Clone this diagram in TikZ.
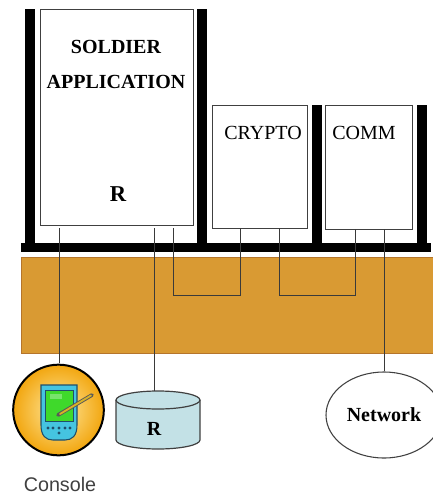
\documentclass[tikz,border=0pt]{standalone}
\usepackage{fontspec}
\setmainfont{Liberation Serif}
\setsansfont{Liberation Sans}
\usetikzlibrary{calc,fit,shapes.geometric}

\definecolor{busorange}{HTML}{D99A33}
\definecolor{busedge}{HTML}{B5752B}
\definecolor{storeblue}{HTML}{C3E1E6}
\definecolor{palmblue}{HTML}{45C4E0}
\definecolor{palmgreen}{HTML}{3FD92B}
\definecolor{palmframe}{HTML}{1F4E6B}
\definecolor{wireink}{HTML}{3A3A3A}
\definecolor{sunedge}{HTML}{F2A60F}
\definecolor{suncore}{HTML}{FFE9A0}

\tikzset{
    bar/.style={fill=black, draw=none},
    modbox/.style={draw=black!75, line width=0.7pt, fill=white, inner sep=0pt},
    wire/.style={draw=wireink, line width=0.75pt},
    boldlabel/.style={font=\fontsize{15}{15}\selectfont\bfseries},
    thinlabel/.style={font=\fontsize{15}{15}\selectfont},
}

\begin{document}
\begin{tikzpicture}[x=0.75pt, y=-0.75pt]
    \useasboundingbox (0,0) rectangle (433,494);

    % orange band
        \node[fill=busorange, draw=busedge, line width=0.7pt, inner sep=0pt,
              fit={(21,257.5) (433,353)}] (band) {};

    % black uprights and rail
        \fill[bar] (25,9) rectangle (35,245);
        \fill[bar] (197,9) rectangle (207,245);
        \fill[bar] (312,105) rectangle (322,245);
        \fill[bar] (417,105) rectangle (427,245);
        \fill[bar] (21,243) rectangle (431,252);

    % modules
        \node[modbox, fit={(40,9) (193,225)}] (app) {};
        \node[modbox, fit={(212,105) (307,228)}] (crypto) {};
        \node[modbox, fit={(325,105) (412,229)}] (comm) {};

    % labels in modules
        \node[boldlabel] (soldier) at (116,47) {SOLDIER};
        \node[boldlabel] (application) at (116,82) {APPLICATION};
        \node[font=\fontsize{17}{17}\selectfont\bfseries] (appR) at (118,194) {R};
        \node[thinlabel] (cryptolabel) at (263,133) {CRYPTO};
        \node[thinlabel] (commlabel) at (364,133) {COMM};

    % console
        \node[circle, draw=black, line width=1.5pt, inner sep=0pt, minimum size=68pt,
              inner color=suncore, outer color=sunedge] (console) at (58.5,410) {};
        \draw[palmframe, line width=0.8pt, fill=palmblue]
            (41,385) -- (77,385) -- (77,425) .. controls (77,436) and (72,440) .. (65,440)
            -- (53,440) .. controls (46,440) and (41,436) .. (41,425) -- cycle;
        \fill[palmframe] (45,390) rectangle (74,422);
        \fill[palmgreen] (46,391) rectangle (73,421);
        \fill[white, opacity=.3] (50,394) rectangle (62,399);
        \foreach \dotx/\doty in {48,53,59,65,70}
            \fill[palmframe] (\dotx,428) circle (1.7);
        \fill[palmframe] (59,433) circle (1.7);
        \draw[black!65, line width=2.8pt, line cap=round] (58,415) -- (92,395);
        \draw[brown!60!yellow, line width=1.4pt, line cap=round] (60,414) -- (91,395.5);
        \node[font=\sffamily\fontsize{14.8}{15}\selectfont, text=black!75, inner sep=0pt] (consolelabel) at (60,484) {Console};

    % store
        \draw[black!75, line width=0.9pt, fill=storeblue]
            (116,400) -- (116,440) arc[start angle=180, end angle=360, x radius=42, y radius=-9]
            -- (200,400) arc[start angle=0, end angle=180, x radius=42, y radius=-9] -- cycle;
        \draw[black!75, line width=0.9pt]
            (116,400) arc[start angle=180, end angle=360, x radius=42, y radius=-9];
        \coordinate (storetop) at (154,391);
        \node[boldlabel] (storeR) at (154,429) {R};

    % network
        \node[ellipse, draw=black!75, line width=0.8pt, fill=white, inner sep=0pt,
              minimum width=87pt, minimum height=64.5pt] (network) at (384,415) {};
        \node[boldlabel] (networklabel) at (384,415) {Network};

    % wires
        \coordinate (appa) at (59,228);
        \coordinate (appb) at (154,228);
        \coordinate (appc) at (173,228);
        \coordinate (cryptoa) at (240,228);
        \coordinate (cryptob) at (279,228);
        \coordinate (comma) at (355,229);
        \coordinate (commb) at (384,229);
        \coordinate (consoletop) at (59,363);
        \draw[wire] (appa) -- (consoletop);
        \draw[wire] (appb) -- (storetop);
        \draw[wire] (appc) -- (173,295) -| (cryptoa);
        \draw[wire] (cryptob) -- (279,295) -| (comma);
        \draw[wire] (commb) -- (network.north);

\end{tikzpicture}
\end{document}
